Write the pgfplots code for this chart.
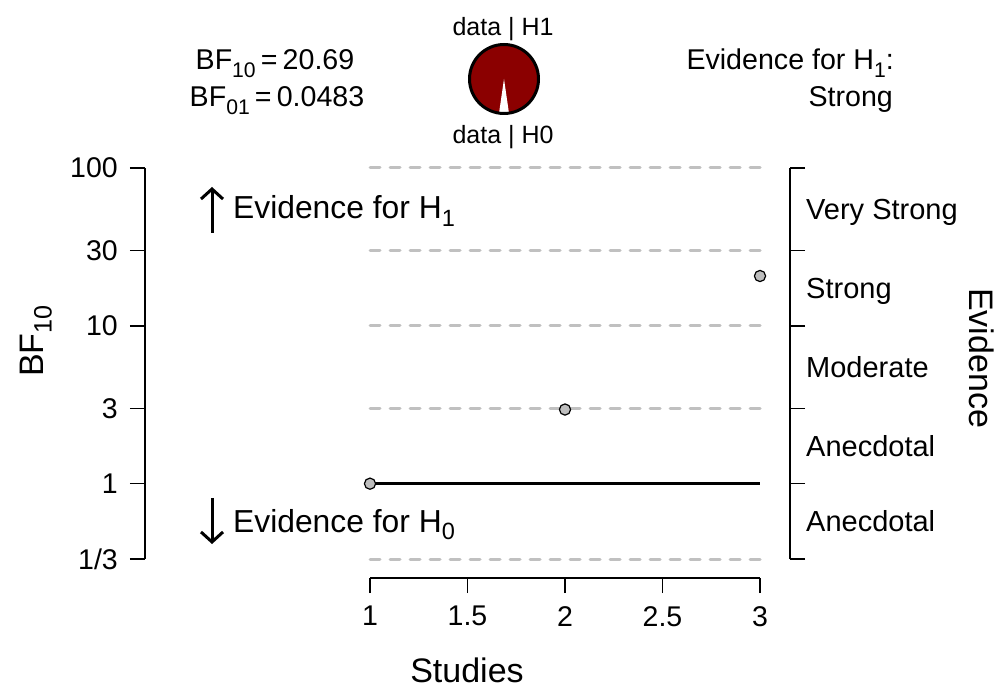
\documentclass[border=0pt]{standalone}
\usepackage{pgfplots}
\pgfplotsset{compat=1.18}
\usepackage{graphicx}
\usepackage{fontspec}
\setmainfont{Liberation Sans}
\usetikzlibrary{arrows.meta}
\definecolor{bfred}{RGB}{139,0,0}
\definecolor{ptgray}{RGB}{190,190,190}
\definecolor{dashgray}{RGB}{192,192,192}
\newcommand{\sub}[1]{\raisebox{-0.25em}{\scalebox{0.74}{#1}}}
\newcommand{\fTick}{\fontsize{28.5}{34}\selectfont}
\newcommand{\fLab}{\fontsize{34}{40}\selectfont}
\newcommand{\fRight}{\fontsize{29}{35}\selectfont}
\newcommand{\fArrow}{\fontsize{31.8}{38}\selectfont}
\newcommand{\fTop}{\fontsize{28.6}{34}\selectfont}
\newcommand{\fPie}{\fontsize{25}{30}\selectfont}
\begin{document}
\begin{tikzpicture}
\useasboundingbox (0pt,0pt) rectangle (1000pt,688pt);
% main axis (y axes + data)
\begin{axis}[
  at={(145pt,129pt)}, anchor=south west, scale only axis,
  width=645pt, height=391pt,
  xmin=-0.153846, xmax=3.153846,
  ymode=log, ymin=0.333333, ymax=100,
  axis x line=none,
  axis y line=box,
  xtick=\empty,
  ytick={0.333333,1,3,10,30,100},
  yticklabels={1/3,1,3,10,30,100},
  ytick pos=both, yticklabel pos=left,
  tick align=outside,
  major tick length=15pt,
  y axis line style={line width=1.6pt, black},
  ytick style={line width=1.6pt, black},
  yticklabel style={font=\fTick, anchor=east, inner sep=0pt, xshift=-12pt},
  clip=false,
]
\addplot[dashgray, line width=3pt, line cap=round, dash pattern=on 10pt off 10pt] coordinates {(1,100) (3,100)};
\addplot[dashgray, line width=3pt, line cap=round, dash pattern=on 10pt off 10pt] coordinates {(1,30) (3,30)};
\addplot[dashgray, line width=3pt, line cap=round, dash pattern=on 10pt off 10pt] coordinates {(1,10) (3,10)};
\addplot[dashgray, line width=3pt, line cap=round, dash pattern=on 10pt off 10pt] coordinates {(1,3) (3,3)};
\addplot[dashgray, line width=3pt, line cap=round, dash pattern=on 10pt off 10pt] coordinates {(1,0.333333) (3,0.333333)};
\addplot[black, line width=3.5pt] coordinates {(1,1) (3,1)};
\addplot[only marks, mark=*, mark size=5.6pt, mark options={fill=ptgray, draw=black, line width=1.2pt}] coordinates {(1,1) (2,2.95) (3,20.69)};
\end{axis}
% x axis
\begin{axis}[
  at={(145pt,110pt)}, anchor=south west, scale only axis,
  width=645pt, height=20pt,
  xmin=-0.153846, xmax=3.153846, ymin=0, ymax=1,
  axis y line=none, axis x line*=bottom,
  x axis line style={draw=none},
  ytick=\empty,
  xtick={1,1.5,2,2.5,3}, xticklabels={1,1.5,2,2.5,3},
  tick align=outside,
  major tick length=15pt,
  xtick style={line width=1.6pt, black},
  xticklabel style={font=\fTick, anchor=north, inner sep=0pt, yshift=-13pt},
  clip=false,
]
\draw[line width=1.6pt] (axis cs:1,0) -- (axis cs:3,0);
\end{axis}
% axis titles
\node[font=\fLab, anchor=base, inner sep=0pt] at (467pt,6pt) {Studies};
\node[font=\fLab, anchor=base, inner sep=0pt, rotate=90] at (43pt,347pt) {BF\sub{10}};
\node[font=\fLab, anchor=base, inner sep=0pt, rotate=-90] at (969pt,330pt) {Evidence};
% evidence category labels
\node[font=\fRight, anchor=base west, inner sep=0pt] at (806pt,468.6pt) {Very Strong};
\node[font=\fRight, anchor=base west, inner sep=0pt] at (806pt,389.6pt) {Strong};
\node[font=\fRight, anchor=base west, inner sep=0pt] at (806pt,310.6pt) {Moderate};
\node[font=\fRight, anchor=base west, inner sep=0pt] at (806pt,231.6pt) {Anecdotal};
\node[font=\fRight, anchor=base west, inner sep=0pt] at (806pt,156.6pt) {Anecdotal};
% arrows
\draw[line width=3pt, -{Straight Barb[length=10pt,width=22pt]}] (212pt,455pt) -- (212pt,501pt);
\draw[line width=3pt, -{Straight Barb[length=10pt,width=22pt]}] (212pt,190pt) -- (212pt,144pt);
\node[font=\fArrow, anchor=base west, inner sep=0pt] at (233pt,469pt) {Evidence for H\sub{1}};
\node[font=\fArrow, anchor=base west, inner sep=0pt] at (233pt,156pt) {Evidence for H\sub{0}};
% top texts
\node[font=\fTop, anchor=base, inner sep=0pt] at (275pt,618pt) {BF\sub{10}\hspace{0.18em}=\hspace{0.18em}20.69};
\node[font=\fTop, anchor=base, inner sep=0pt] at (277pt,581pt) {BF\sub{01}\hspace{0.18em}=\hspace{0.18em}0.0483};
\node[font=\fTop, anchor=base east, inner sep=0pt] at (894pt,618pt) {Evidence for H\sub{1}:};
\node[font=\fTop, anchor=base east, inner sep=0pt] at (893pt,581pt) {Strong};
% pie
\fill[bfred] (504pt,609pt) circle (34.5pt);
\fill[white] (504pt,609pt) -- ++(261.7:34.5pt) arc[start angle=261.7, end angle=278.3, radius=34.5pt] -- cycle;
\draw[line width=3pt] (504pt,609pt) circle (34.5pt);
\node[font=\fPie, anchor=base, inner sep=0pt] at (503pt,652pt) {data | H1};
\node[font=\fPie, anchor=base, inner sep=0pt] at (503pt,544pt) {data | H0};
\end{tikzpicture}
\end{document}
